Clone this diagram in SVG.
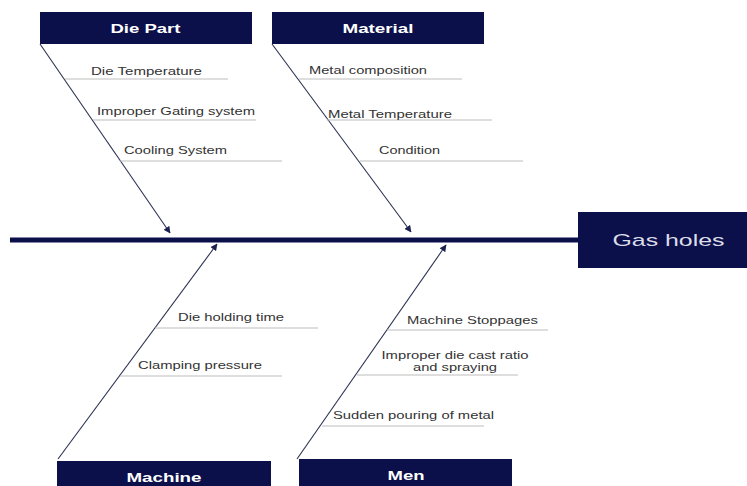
<svg xmlns="http://www.w3.org/2000/svg" width="747" height="486" viewBox="0 0 747 486">
<defs>
<style>
.box{fill:#0b0f4a}
.hd{font-family:"Liberation Sans",Arial,sans-serif;font-weight:bold;font-size:13.5px;fill:#ffffff}
.sub{font-family:"Liberation Sans",Arial,sans-serif;font-size:10.5px;fill:#333333}
.tick{stroke:#bdbdbd;stroke-width:1}
.bone{stroke:#2b3152;stroke-width:1.1;fill:none;marker-end:url(#ah)}
</style>
<marker id="ah" viewBox="0 0 10 10" refX="9" refY="5" markerWidth="7" markerHeight="7" markerUnits="userSpaceOnUse" orient="auto">
<path d="M0,0 L10,5 L0,10 z" fill="#1b2050"/>
</marker>
</defs>
<rect width="747" height="486" fill="#ffffff"/>
<g id="connectors">
<line x1="10" y1="240" x2="580" y2="240" stroke="#0b0f4a" stroke-width="5"/>
<line class="bone" x1="40" y1="44" x2="170" y2="233"/>
<line class="bone" x1="272" y1="44" x2="411" y2="232"/>
<line class="bone" x1="58" y1="459" x2="217" y2="244"/>
<line class="bone" x1="297" y1="459" x2="446" y2="245"/>
</g>
<g id="effect">
<rect class="box" x="578" y="212" width="169" height="56"/>
<text x="668.5" y="246" font-family="'Liberation Sans',Arial,sans-serif" font-size="17" fill="#dcdde8" text-anchor="middle" textLength="112" lengthAdjust="spacingAndGlyphs">Gas holes</text>
</g>
<g id="die-part">
<rect class="box" x="40" y="12" width="212" height="32"/>
<text class="hd" x="145.5" y="33" text-anchor="middle" textLength="70" lengthAdjust="spacingAndGlyphs">Die Part</text>
<line class="tick" x1="65" y1="79" x2="228" y2="79"/>
<text class="sub" x="91" y="75" textLength="111" lengthAdjust="spacingAndGlyphs">Die Temperature</text>
<line class="tick" x1="93" y1="120" x2="256" y2="120"/>
<text class="sub" x="97" y="115" textLength="158" lengthAdjust="spacingAndGlyphs">Improper Gating system</text>
<line class="tick" x1="120" y1="161" x2="282" y2="161"/>
<text class="sub" x="124" y="154" textLength="103" lengthAdjust="spacingAndGlyphs">Cooling System</text>
</g>
<g id="material">
<rect class="box" x="272" y="12" width="212" height="32"/>
<text class="hd" x="378" y="33" text-anchor="middle" textLength="71" lengthAdjust="spacingAndGlyphs">Material</text>
<line class="tick" x1="299" y1="79" x2="462" y2="79"/>
<text class="sub" x="309" y="74" textLength="118" lengthAdjust="spacingAndGlyphs">Metal composition</text>
<line class="tick" x1="327" y1="120" x2="492" y2="120"/>
<text class="sub" x="328" y="118" textLength="124" lengthAdjust="spacingAndGlyphs">Metal Temperature</text>
<line class="tick" x1="360" y1="161" x2="523" y2="161"/>
<text class="sub" x="379" y="154" textLength="61" lengthAdjust="spacingAndGlyphs">Condition</text>
</g>
<g id="machine">
<rect class="box" x="57" y="461" width="214" height="30"/>
<text class="hd" x="164" y="482" text-anchor="middle" textLength="75" lengthAdjust="spacingAndGlyphs">Machine</text>
<line class="tick" x1="155" y1="328" x2="318" y2="328"/>
<text class="sub" x="178" y="321" textLength="106" lengthAdjust="spacingAndGlyphs">Die holding time</text>
<line class="tick" x1="120" y1="376" x2="282" y2="376"/>
<text class="sub" x="138" y="369" textLength="124" lengthAdjust="spacingAndGlyphs">Clamping pressure</text>
</g>
<g id="men">
<rect class="box" x="299" y="459" width="213" height="32"/>
<text class="hd" x="406" y="480" text-anchor="middle" textLength="37" lengthAdjust="spacingAndGlyphs">Men</text>
<line class="tick" x1="387" y1="330" x2="548" y2="330"/>
<text class="sub" x="407" y="324" textLength="131" lengthAdjust="spacingAndGlyphs">Machine Stoppages</text>
<line class="tick" x1="357" y1="375" x2="518" y2="375"/>
<text class="sub" x="455" y="359" text-anchor="middle" textLength="147" lengthAdjust="spacingAndGlyphs">Improper die cast ratio</text>
<text class="sub" x="455" y="371" text-anchor="middle" textLength="84" lengthAdjust="spacingAndGlyphs">and spraying</text>
<line class="tick" x1="322" y1="426" x2="484" y2="426"/>
<text class="sub" x="333" y="419" textLength="161" lengthAdjust="spacingAndGlyphs">Sudden pouring of metal</text>
</g>
</svg>
